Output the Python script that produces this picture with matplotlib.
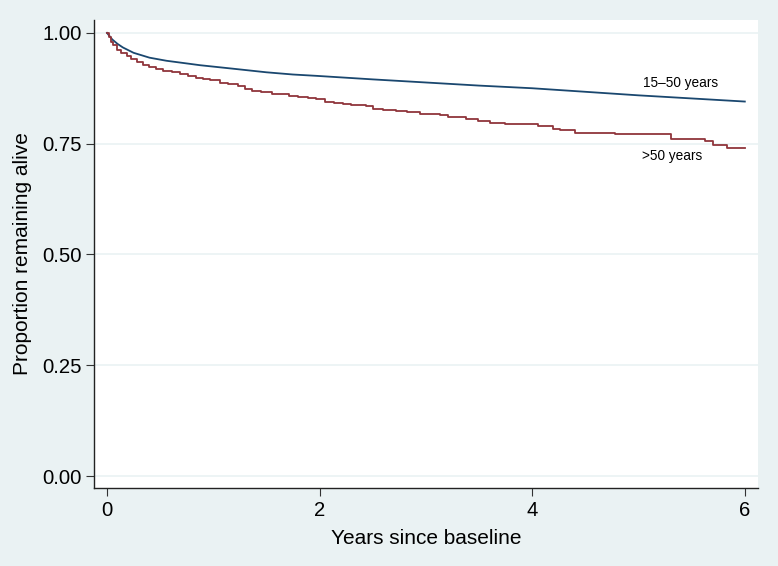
import matplotlib
matplotlib.use("Agg")
import matplotlib.pyplot as plt

plt.rcParams['font.family'] = ['Liberation Sans', 'DejaVu Sans']

# Kaplan-Meier estimates
t_young = [0, 0.05, 0.1, 0.15, 0.25, 0.4, 0.56, 0.75, 0.875, 1.19, 1.5, 1.75, 1.97,
           2.5, 3.0, 3.5, 4.0, 4.5, 5.0, 5.5, 6.0]
s_young = [1.0, 0.985, 0.975, 0.967, 0.955, 0.944, 0.937, 0.931, 0.927, 0.919, 0.911,
           0.906, 0.903, 0.895, 0.888, 0.881, 0.875, 0.867, 0.859, 0.852, 0.845]

t_old = [0, 0.02, 0.04, 0.06, 0.09, 0.13, 0.185, 0.23, 0.28, 0.34, 0.40, 0.46, 0.53,
         0.61, 0.69, 0.76, 0.84, 0.90, 0.97, 1.06, 1.14, 1.235, 1.30, 1.36, 1.45, 1.55,
         1.63, 1.71, 1.80, 1.89, 1.97, 2.05, 2.14, 2.22, 2.30, 2.44, 2.50, 2.60, 2.72,
         2.82, 2.94, 3.03, 3.13, 3.21, 3.29, 3.38, 3.49, 3.60, 3.74, 4.05, 4.20, 4.26,
         4.40, 4.78, 5.31, 5.63, 5.70, 5.83, 6.0]
s_old = [1.0, 0.990, 0.980, 0.972, 0.962, 0.955, 0.947, 0.940, 0.934, 0.928, 0.923,
         0.918, 0.914, 0.911, 0.908, 0.903, 0.898, 0.896, 0.893, 0.887, 0.884, 0.879,
         0.874, 0.869, 0.866, 0.863, 0.861, 0.858, 0.856, 0.853, 0.850, 0.845, 0.842,
         0.839, 0.837, 0.835, 0.829, 0.826, 0.824, 0.822, 0.817, 0.816, 0.814, 0.811,
         0.809, 0.806, 0.800, 0.797, 0.794, 0.789, 0.783, 0.781, 0.775, 0.772, 0.761,
         0.755, 0.748, 0.741, 0.741]

labels = ["15\u201350 years", ">50 years"]
x_ticks = [0, 2, 4, 6]
y_ticks = [0.00, 0.25, 0.50, 0.75, 1.00]

bg = '#EAF2F3'
fig = plt.figure(figsize=(7.78, 5.66), dpi=100, facecolor=bg)
ax = fig.add_axes([94/778, 1-488/566, (758-94)/778, (488-20)/566])
ax.set_facecolor('white')

ax.plot(t_young, s_young, color='#1A476F', lw=1.3)
ax.plot(t_old, s_old, color='#90353B', lw=1.3, drawstyle='steps-post')

ax.text(5.04, 0.887, labels[0], fontsize=9.8, va='center', ha='left', color='black')
ax.text(5.03, 0.722, labels[1], fontsize=9.8, va='center', ha='left', color='black')

ax.set_xlim(-0.122, 6.124)
ax.set_ylim(-0.027, 1.029)
ax.set_xticks(x_ticks)
ax.set_xticklabels([str(x) for x in x_ticks])
ax.set_yticks(y_ticks)
ax.set_yticklabels([f"{y:.2f}" for y in y_ticks])
ax.tick_params(axis='both', labelsize=14.6, length=6, width=0.8, color='#333333', pad=3)
ax.grid(axis='y', color='#EAF2F3', lw=1.2)
ax.set_axisbelow(True)
for s in ['top', 'right']:
    ax.spines[s].set_visible(False)
for s in ['left', 'bottom']:
    ax.spines[s].set_color('#222222')
    ax.spines[s].set_linewidth(1.0)

ax.set_xlabel("Years since baseline", fontsize=15, labelpad=7)
ax.set_ylabel("Proportion remaining alive", fontsize=15, labelpad=7)

fig.savefig("out.png", dpi=100, facecolor=bg)
